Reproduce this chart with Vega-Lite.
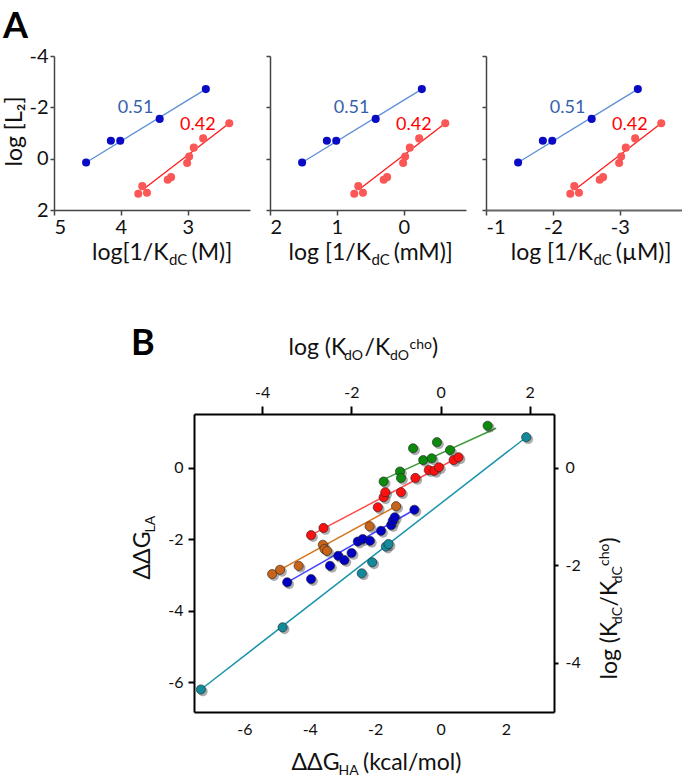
{
  "$schema": "https://vega.github.io/schema/vega-lite/v6.json",
  "padding": {"left": 3, "top": 9, "right": 0, "bottom": 0},
  "background": "white",
  "config": {
    "font": "Lato",
    "view": {"stroke": null},
    "axis": {"grid": false, "labelFont": "Lato", "titleFont": "Lato", "titleFontWeight": "normal", "labelColor": "#111", "titleColor": "#111", "domainColor": "#444", "tickColor": "#444"}
  },
  "datasets": {
    "a": [
      {"series": "blue", "logInvK": 4.52, "logL2": 0.15},
      {"series": "blue", "logInvK": 4.15, "logL2": -0.70},
      {"series": "blue", "logInvK": 4.01, "logL2": -0.70},
      {"series": "blue", "logInvK": 3.42, "logL2": -1.55},
      {"series": "blue", "logInvK": 2.73, "logL2": -2.71},
      {"series": "red", "logInvK": 3.74, "logL2": 1.37},
      {"series": "red", "logInvK": 3.68, "logL2": 1.07},
      {"series": "red", "logInvK": 3.61, "logL2": 1.33},
      {"series": "red", "logInvK": 3.30, "logL2": 0.82},
      {"series": "red", "logInvK": 3.25, "logL2": 0.72},
      {"series": "red", "logInvK": 3.01, "logL2": 0.17},
      {"series": "red", "logInvK": 2.98, "logL2": -0.08},
      {"series": "red", "logInvK": 2.91, "logL2": -0.43},
      {"series": "red", "logInvK": 2.77, "logL2": -0.79},
      {"series": "red", "logInvK": 2.38, "logL2": -1.38}
    ],
    "aLines": [
      {"series": "blue", "logInvK": 4.52, "logL2": 0.15},
      {"series": "blue", "logInvK": 2.73, "logL2": -2.71},
      {"series": "red", "logInvK": 3.66, "logL2": 1.18},
      {"series": "red", "logInvK": 2.38, "logL2": -1.38}
    ],
    "aLabels": [
      {"series": "blue", "logInvK": 3.78, "logL2": -1.99, "label": "0.51"},
      {"series": "red", "logInvK": 2.85, "logL2": -1.33, "label": "0.42"}
    ],
    "b": [
      {"series": "teal", "dGHA": -7.33, "dGLA": -6.20},
      {"series": "teal", "dGHA": -4.83, "dGLA": -4.46},
      {"series": "teal", "dGHA": -2.41, "dGLA": -2.95},
      {"series": "teal", "dGHA": -2.09, "dGLA": -2.64},
      {"series": "teal", "dGHA": -1.67, "dGLA": -2.20},
      {"series": "teal", "dGHA": -1.59, "dGLA": -2.13},
      {"series": "teal", "dGHA": 2.62, "dGLA": 0.86},
      {"series": "orange", "dGHA": -5.15, "dGLA": -2.97},
      {"series": "orange", "dGHA": -4.91, "dGLA": -2.85},
      {"series": "orange", "dGHA": -4.34, "dGLA": -2.74},
      {"series": "orange", "dGHA": -3.60, "dGLA": -2.15},
      {"series": "orange", "dGHA": -3.55, "dGLA": -2.27},
      {"series": "orange", "dGHA": -3.47, "dGLA": -2.32},
      {"series": "orange", "dGHA": -2.17, "dGLA": -1.63},
      {"series": "orange", "dGHA": -1.36, "dGLA": -1.07},
      {"series": "blue", "dGHA": -4.69, "dGLA": -3.20},
      {"series": "blue", "dGHA": -3.96, "dGLA": -3.11},
      {"series": "blue", "dGHA": -3.38, "dGLA": -2.74},
      {"series": "blue", "dGHA": -3.13, "dGLA": -2.46},
      {"series": "blue", "dGHA": -2.94, "dGLA": -2.58},
      {"series": "blue", "dGHA": -2.72, "dGLA": -2.38},
      {"series": "blue", "dGHA": -2.53, "dGLA": -2.06},
      {"series": "blue", "dGHA": -2.38, "dGLA": -1.99},
      {"series": "blue", "dGHA": -2.16, "dGLA": -2.04},
      {"series": "blue", "dGHA": -1.82, "dGLA": -1.76},
      {"series": "blue", "dGHA": -1.51, "dGLA": -1.60},
      {"series": "blue", "dGHA": -1.46, "dGLA": -1.48},
      {"series": "blue", "dGHA": -1.40, "dGLA": -1.38},
      {"series": "blue", "dGHA": -0.80, "dGLA": -1.17},
      {"series": "green", "dGHA": -1.74, "dGLA": -0.38},
      {"series": "green", "dGHA": -1.24, "dGLA": -0.10},
      {"series": "green", "dGHA": -1.21, "dGLA": -0.28},
      {"series": "green", "dGHA": -0.84, "dGLA": 0.55},
      {"series": "green", "dGHA": -0.53, "dGLA": 0.22},
      {"series": "green", "dGHA": -0.27, "dGLA": 0.27},
      {"series": "green", "dGHA": -0.11, "dGLA": 0.72},
      {"series": "green", "dGHA": 0.29, "dGLA": 0.50},
      {"series": "green", "dGHA": 1.44, "dGLA": 1.18},
      {"series": "red", "dGHA": -3.96, "dGLA": -1.88},
      {"series": "red", "dGHA": -3.58, "dGLA": -1.68},
      {"series": "red", "dGHA": -1.92, "dGLA": -1.10},
      {"series": "red", "dGHA": -1.74, "dGLA": -0.82},
      {"series": "red", "dGHA": -1.69, "dGLA": -0.68},
      {"series": "red", "dGHA": -1.21, "dGLA": -0.68},
      {"series": "red", "dGHA": -0.77, "dGLA": -0.28},
      {"series": "red", "dGHA": -0.36, "dGLA": -0.06},
      {"series": "red", "dGHA": -0.19, "dGLA": -0.08},
      {"series": "red", "dGHA": -0.05, "dGLA": 0.02},
      {"series": "red", "dGHA": 0.40, "dGLA": 0.22},
      {"series": "red", "dGHA": 0.55, "dGLA": 0.30}
    ],
    "bLines": [
      {"series": "teal", "dGHA": -7.33, "dGLA": -6.20},
      {"series": "teal", "dGHA": 2.62, "dGLA": 0.86},
      {"series": "orange", "dGHA": -5.15, "dGLA": -2.97},
      {"series": "orange", "dGHA": -1.36, "dGLA": -1.07},
      {"series": "blue", "dGHA": -4.69, "dGLA": -3.20},
      {"series": "blue", "dGHA": -0.80, "dGLA": -1.17},
      {"series": "green", "dGHA": -1.67, "dGLA": -0.29},
      {"series": "green", "dGHA": 1.70, "dGLA": 1.11},
      {"series": "red", "dGHA": -3.96, "dGLA": -1.88},
      {"series": "red", "dGHA": 0.55, "dGLA": 0.30}
    ]
  },
  "spacing": 59,
  "vconcat": [
    {
      "title": {"text": "A", "anchor": "start", "frame": "bounds", "fontSize": 36, "fontWeight": "bold", "font": "Lato", "color": "#000", "offset": 0},
      "spacing": 15,
      "hconcat": [
        {
          "width": 196, "height": 154,
          "layer": [
            {"data": {"name": "aLines"}, "mark": {"type": "line", "strokeWidth": 1.3},
             "encoding": {
               "x": {"field": "logInvK", "type": "quantitative", "scale": {"domain": [2.07, 5], "reverse": true, "nice": false, "zero": false},
                     "axis": {"orient": "bottom", "values": [5, 4, 3], "labelExpr": "'' + datum.value", "tickSize": 5, "tickWidth": 1.5, "domainWidth": 1.5, "labelFontSize": 20, "labelPadding": 2,
                              "title": "log[1/K", "titleFontSize": 23, "titleAlign": "right", "titleBaseline": "alphabetic", "titleX": 114, "titleY": 49}},
               "y": {"field": "logL2", "type": "quantitative", "scale": {"domain": [-4, 2], "reverse": true, "nice": false, "zero": false},
                     "axis": {"orient": "left", "values": [-4, -2, 0, 2], "labelExpr": "'' + datum.value", "tickSize": 4, "tickWidth": 1.5, "domainWidth": 1.5, "labelFontSize": 20, "labelPadding": 2,
                              "title": "log [L₂]", "titleFontSize": 23, "titleAngle": 270, "titleAlign": "center", "titleBaseline": "middle", "titleX": -40, "titleY": 75}},
               "color": {"field": "series", "type": "nominal", "scale": {"domain": ["blue", "red"], "range": ["#5b8fd9", "#ff1a1a"]}, "legend": null}
             }},
            {"data": {"name": "a"}, "mark": {"type": "circle", "size": 65, "opacity": 1},
             "encoding": {
               "x": {"field": "logInvK", "type": "quantitative", "scale": {"domain": [2.07, 5], "reverse": true, "nice": false, "zero": false},
                     "axis": {"orient": "bottom", "labels": false, "ticks": false, "domain": false, "title": "dC", "titleFontSize": 15, "titleAlign": "left", "titleBaseline": "alphabetic", "titleX": 114.5, "titleY": 54}},
               "y": {"field": "logL2", "type": "quantitative", "scale": {"domain": [-4, 2], "reverse": true, "nice": false, "zero": false}, "axis": null},
               "color": {"field": "series", "type": "nominal", "scale": {"domain": ["blue", "red"], "range": ["#0b0bc4", "#fb5757"]}, "legend": null}
             }},
            {"data": {"name": "aLabels"}, "mark": {"type": "text", "fontSize": 18, "font": "Lato"},
             "encoding": {
               "x": {"field": "logInvK", "type": "quantitative", "scale": {"domain": [2.07, 5], "reverse": true, "nice": false, "zero": false},
                     "axis": {"orient": "bottom", "labels": false, "ticks": false, "domain": false, "title": "(M)]", "titleFontSize": 23, "titleAlign": "left", "titleBaseline": "alphabetic", "titleX": 137, "titleY": 49}},
               "y": {"field": "logL2", "type": "quantitative", "scale": {"domain": [-4, 2], "reverse": true, "nice": false, "zero": false}, "axis": null},
               "text": {"field": "label"},
               "color": {"field": "series", "type": "nominal", "scale": {"domain": ["blue", "red"], "range": ["#3460ad", "#ff0000"]}, "legend": null}
             }}
          ],
          "resolve": {"scale": {"color": "independent"}, "axis": {"x": "independent", "y": "independent"}}
        },
        {
          "width": 196, "height": 154,
          "layer": [
            {"data": {"name": "aLines"}, "mark": {"type": "line", "strokeWidth": 1.3},
             "encoding": {
               "x": {"field": "logInvK", "type": "quantitative", "scale": {"domain": [2.07, 5], "reverse": true, "nice": false, "zero": false},
                     "axis": {"orient": "bottom", "values": [5, 4, 3], "labelExpr": "'' + (datum.value - 3)", "tickSize": 5, "tickWidth": 1.5, "domainWidth": 1.5, "labelFontSize": 20, "labelPadding": 2,
                              "title": "log [1/K", "titleFontSize": 23, "titleAlign": "right", "titleBaseline": "alphabetic", "titleX": 100.4, "titleY": 49}},
               "y": {"field": "logL2", "type": "quantitative", "scale": {"domain": [-4, 2], "reverse": true, "nice": false, "zero": false},
                     "axis": {"orient": "left", "values": [-4, -2, 0, 2], "labels": false, "tickSize": 4, "tickWidth": 1.5, "domainWidth": 1.5, "title": null}},
               "color": {"field": "series", "type": "nominal", "scale": {"domain": ["blue", "red"], "range": ["#5b8fd9", "#ff1a1a"]}, "legend": null}
             }},
            {"data": {"name": "a"}, "mark": {"type": "circle", "size": 65, "opacity": 1},
             "encoding": {
               "x": {"field": "logInvK", "type": "quantitative", "scale": {"domain": [2.07, 5], "reverse": true, "nice": false, "zero": false},
                     "axis": {"orient": "bottom", "labels": false, "ticks": false, "domain": false, "title": "dC", "titleFontSize": 15, "titleAlign": "left", "titleBaseline": "alphabetic", "titleX": 100.9, "titleY": 54}},
               "y": {"field": "logL2", "type": "quantitative", "scale": {"domain": [-4, 2], "reverse": true, "nice": false, "zero": false}, "axis": null},
               "color": {"field": "series", "type": "nominal", "scale": {"domain": ["blue", "red"], "range": ["#0b0bc4", "#fb5757"]}, "legend": null}
             }},
            {"data": {"name": "aLabels"}, "mark": {"type": "text", "fontSize": 18, "font": "Lato"},
             "encoding": {
               "x": {"field": "logInvK", "type": "quantitative", "scale": {"domain": [2.07, 5], "reverse": true, "nice": false, "zero": false},
                     "axis": {"orient": "bottom", "labels": false, "ticks": false, "domain": false, "title": "(mM)]", "titleFontSize": 23, "titleAlign": "left", "titleBaseline": "alphabetic", "titleX": 123.2, "titleY": 49}},
               "y": {"field": "logL2", "type": "quantitative", "scale": {"domain": [-4, 2], "reverse": true, "nice": false, "zero": false}, "axis": null},
               "text": {"field": "label"},
               "color": {"field": "series", "type": "nominal", "scale": {"domain": ["blue", "red"], "range": ["#3460ad", "#ff0000"]}, "legend": null}
             }}
          ],
          "resolve": {"scale": {"color": "independent"}, "axis": {"x": "independent", "y": "independent"}}
        },
        {
          "width": 196, "height": 154,
          "layer": [
            {"data": {"name": "aLines"}, "mark": {"type": "line", "strokeWidth": 1.3},
             "encoding": {
               "x": {"field": "logInvK", "type": "quantitative", "scale": {"domain": [2.07, 5], "reverse": true, "nice": false, "zero": false},
                     "axis": {"orient": "bottom", "values": [5, 4, 3], "labelExpr": "'' + (datum.value - 6)", "tickSize": 5, "tickWidth": 1.5, "domainWidth": 2, "domainColor": "#666", "labelFontSize": 20, "labelPadding": 2,
                              "title": "log [1/K", "titleFontSize": 23, "titleAlign": "right", "titleBaseline": "alphabetic", "titleX": 106.6, "titleY": 49}},
               "y": {"field": "logL2", "type": "quantitative", "scale": {"domain": [-4, 2], "reverse": true, "nice": false, "zero": false},
                     "axis": {"orient": "left", "values": [-4, -2, 0, 2], "labels": false, "tickSize": 4, "tickWidth": 1.5, "domainWidth": 1.5, "title": null}},
               "color": {"field": "series", "type": "nominal", "scale": {"domain": ["blue", "red"], "range": ["#5b8fd9", "#ff1a1a"]}, "legend": null}
             }},
            {"data": {"name": "a"}, "mark": {"type": "circle", "size": 65, "opacity": 1},
             "encoding": {
               "x": {"field": "logInvK", "type": "quantitative", "scale": {"domain": [2.07, 5], "reverse": true, "nice": false, "zero": false},
                     "axis": {"orient": "bottom", "labels": false, "ticks": false, "domain": false, "title": "dC", "titleFontSize": 15, "titleAlign": "left", "titleBaseline": "alphabetic", "titleX": 107, "titleY": 54}},
               "y": {"field": "logL2", "type": "quantitative", "scale": {"domain": [-4, 2], "reverse": true, "nice": false, "zero": false}, "axis": null},
               "color": {"field": "series", "type": "nominal", "scale": {"domain": ["blue", "red"], "range": ["#0b0bc4", "#fb5757"]}, "legend": null}
             }},
            {"data": {"name": "aLabels"}, "mark": {"type": "text", "fontSize": 18, "font": "Lato"},
             "encoding": {
               "x": {"field": "logInvK", "type": "quantitative", "scale": {"domain": [2.07, 5], "reverse": true, "nice": false, "zero": false},
                     "axis": {"orient": "bottom", "labels": false, "ticks": false, "domain": false, "title": "(µM)]", "titleFontSize": 23, "titleAlign": "left", "titleBaseline": "alphabetic", "titleX": 129.3, "titleY": 49}},
               "y": {"field": "logL2", "type": "quantitative", "scale": {"domain": [-4, 2], "reverse": true, "nice": false, "zero": false}, "axis": null},
               "text": {"field": "label"},
               "color": {"field": "series", "type": "nominal", "scale": {"domain": ["blue", "red"], "range": ["#3460ad", "#ff0000"]}, "legend": null}
             }}
          ],
          "resolve": {"scale": {"color": "independent"}, "axis": {"x": "independent", "y": "independent"}}
        }
      ]
    },
    {
      "spacing": 0,
      "hconcat": [
        {"width": 77, "height": 20, "data": {"values": [{"t": " "}]}, "mark": {"type": "text", "opacity": 0}, "encoding": {"text": {"field": "t"}}},
        {
          "width": 360, "height": 298,
          "title": {"text": "B", "anchor": "start", "frame": "bounds", "fontSize": 36, "fontWeight": "bold", "font": "Lato", "color": "#000", "offset": -27},
          "layer": [
            {"data": {"name": "bLines"}, "mark": {"type": "line", "strokeWidth": 1.5},
             "encoding": {
               "x": {"field": "dGHA", "type": "quantitative", "scale": {"domain": [-7.54, 3.47], "nice": false, "zero": false},
                     "axis": {"orient": "bottom", "values": [-6, -4, -2, 0, 2], "labelExpr": "'' + datum.value", "ticks": false, "labelPadding": 9, "labelFontSize": 16, "domainColor": "#000", "domainWidth": 2,
                              "title": "ΔΔG", "titleFontSize": 23, "titleAlign": "left", "titleBaseline": "alphabetic", "titleX": 97, "titleY": 57}},
               "y": {"field": "dGLA", "type": "quantitative", "scale": {"domain": [-6.83, 1.51], "nice": false, "zero": false},
                     "axis": {"orient": "left", "values": [-6, -4, -2, 0], "labelExpr": "'' + datum.value", "tickSize": 6, "tickWidth": 2, "tickColor": "#000", "labelPadding": 5, "labelFontSize": 16, "domainColor": "#000", "domainWidth": 2,
                              "title": "ΔΔG", "titleFontSize": 23, "titleAngle": 270, "titleAlign": "left", "titleBaseline": "alphabetic", "titleX": -45, "titleY": 165}},
               "color": {"field": "series", "type": "nominal", "scale": {"domain": ["teal", "orange", "blue", "green", "red"], "range": ["#1a93ab", "#d9731a", "#4545ff", "#3c9c3c", "#ff4d4d"]}, "legend": null}
             }},
            {"data": {"name": "b"}, "mark": {"type": "circle", "size": 95, "color": "#333", "opacity": 0.4, "xOffset": 2, "yOffset": 2},
             "encoding": {
               "x": {"field": "dGHA", "type": "quantitative", "scale": {"domain": [-7.54, 3.47], "nice": false, "zero": false},
                     "axis": {"orient": "bottom", "labels": false, "ticks": false, "domain": false, "title": "HA", "titleFontSize": 14, "titleAlign": "left", "titleBaseline": "alphabetic", "titleX": 144, "titleY": 62}},
               "y": {"field": "dGLA", "type": "quantitative", "scale": {"domain": [-6.83, 1.51], "nice": false, "zero": false},
                     "axis": {"orient": "left", "labels": false, "ticks": false, "domain": false, "title": "LA", "titleFontSize": 14, "titleAngle": 270, "titleAlign": "left", "titleBaseline": "alphabetic", "titleX": -40, "titleY": 118}}
             }},
            {"data": {"name": "b"}, "mark": {"type": "circle", "size": 85, "opacity": 1, "stroke": "#222", "strokeWidth": 0.6},
             "encoding": {
               "x": {"field": "dGHA", "type": "quantitative", "scale": {"domain": [-7.54, 3.47], "nice": false, "zero": false},
                     "axis": {"orient": "top", "values": [-5.456, -2.728, 0, 2.728], "labelExpr": "'' + round(datum.value / 1.364)", "tickSize": 8, "tickWidth": 2, "tickColor": "#000", "labelPadding": 6, "labelFontSize": 16, "domainColor": "#000", "domainWidth": 2,
                              "title": "log (K", "titleFontSize": 23, "titleAlign": "left", "titleBaseline": "alphabetic", "titleX": 94, "titleY": -60}},
               "y": {"field": "dGLA", "type": "quantitative", "scale": {"domain": [-6.83, 1.51], "nice": false, "zero": false},
                     "axis": {"orient": "right", "values": [-5.456, -2.728, 0], "labelExpr": "'' + round(datum.value / 1.364)", "tickSize": 4, "tickWidth": 2, "tickColor": "#000", "labelPadding": 7, "labelFontSize": 16, "domainColor": "#000", "domainWidth": 2,
                              "title": "log (K", "titleFontSize": 23, "titleAngle": 270, "titleAlign": "left", "titleBaseline": "alphabetic", "titleX": 62, "titleY": 265}},
               "color": {"field": "series", "type": "nominal", "scale": {"domain": ["teal", "orange", "blue", "green", "red"], "range": ["#138a9c", "#c8641a", "#0000c4", "#0c8a0c", "#ff1010"]}, "legend": null}
             }},
            {"data": {"name": "bLines"}, "mark": {"type": "line", "opacity": 0},
             "encoding": {
               "x": {"field": "dGHA", "type": "quantitative", "scale": {"domain": [-7.54, 3.47], "nice": false, "zero": false},
                     "axis": {"orient": "bottom", "labels": false, "ticks": false, "domain": false, "title": "(kcal/mol)", "titleFontSize": 23, "titleAlign": "left", "titleBaseline": "alphabetic", "titleX": 168.5, "titleY": 57}},
               "y": {"field": "dGLA", "type": "quantitative", "scale": {"domain": [-6.83, 1.51], "nice": false, "zero": false},
                     "axis": {"orient": "right", "labels": false, "ticks": false, "domain": false, "title": "dC", "titleFontSize": 14, "titleAngle": 270, "titleAlign": "left", "titleBaseline": "alphabetic", "titleX": 67, "titleY": 209.5}}
             }},
            {"data": {"name": "bLines"}, "mark": {"type": "line", "opacity": 0},
             "encoding": {
               "x": {"field": "dGHA", "type": "quantitative", "scale": {"domain": [-7.54, 3.47], "nice": false, "zero": false},
                     "axis": {"orient": "top", "labels": false, "ticks": false, "domain": false, "title": "dO", "titleFontSize": 14, "titleAlign": "left", "titleBaseline": "alphabetic", "titleX": 149.5, "titleY": -55}},
               "y": {"field": "dGLA", "type": "quantitative", "scale": {"domain": [-6.83, 1.51], "nice": false, "zero": false},
                     "axis": {"orient": "right", "labels": false, "ticks": false, "domain": false, "title": "/K", "titleFontSize": 23, "titleAngle": 270, "titleAlign": "left", "titleBaseline": "alphabetic", "titleX": 62, "titleY": 192}}
             }},
            {"data": {"name": "bLines"}, "mark": {"type": "line", "opacity": 0},
             "encoding": {
               "x": {"field": "dGHA", "type": "quantitative", "scale": {"domain": [-7.54, 3.47], "nice": false, "zero": false},
                     "axis": {"orient": "top", "labels": false, "ticks": false, "domain": false, "title": "/K", "titleFontSize": 23, "titleAlign": "left", "titleBaseline": "alphabetic", "titleX": 170, "titleY": -60}},
               "y": {"field": "dGLA", "type": "quantitative", "scale": {"domain": [-6.83, 1.51], "nice": false, "zero": false},
                     "axis": {"orient": "right", "labels": false, "ticks": false, "domain": false, "title": "dC", "titleFontSize": 14, "titleAngle": 270, "titleAlign": "left", "titleBaseline": "alphabetic", "titleX": 67, "titleY": 168.7}}
             }},
            {"data": {"name": "bLines"}, "mark": {"type": "line", "opacity": 0},
             "encoding": {
               "x": {"field": "dGHA", "type": "quantitative", "scale": {"domain": [-7.54, 3.47], "nice": false, "zero": false},
                     "axis": {"orient": "top", "labels": false, "ticks": false, "domain": false, "title": "dO", "titleFontSize": 14, "titleAlign": "left", "titleBaseline": "alphabetic", "titleX": 195.5, "titleY": -55}},
               "y": {"field": "dGLA", "type": "quantitative", "scale": {"domain": [-6.83, 1.51], "nice": false, "zero": false},
                     "axis": {"orient": "right", "labels": false, "ticks": false, "domain": false, "title": "cho", "titleFontSize": 14, "titleAngle": 270, "titleAlign": "left", "titleBaseline": "alphabetic", "titleX": 54, "titleY": 151.5}}
             }},
            {"data": {"name": "bLines"}, "mark": {"type": "line", "opacity": 0},
             "encoding": {
               "x": {"field": "dGHA", "type": "quantitative", "scale": {"domain": [-7.54, 3.47], "nice": false, "zero": false},
                     "axis": {"orient": "top", "labels": false, "ticks": false, "domain": false, "title": "cho", "titleFontSize": 14, "titleAlign": "left", "titleBaseline": "alphabetic", "titleX": 215, "titleY": -66}},
               "y": {"field": "dGLA", "type": "quantitative", "scale": {"domain": [-6.83, 1.51], "nice": false, "zero": false},
                     "axis": {"orient": "right", "labels": false, "ticks": false, "domain": false, "title": ")", "titleFontSize": 23, "titleAngle": 270, "titleAlign": "left", "titleBaseline": "alphabetic", "titleX": 62, "titleY": 129}}
             }},
            {"data": {"name": "bLines"}, "mark": {"type": "line", "opacity": 0},
             "encoding": {
               "x": {"field": "dGHA", "type": "quantitative", "scale": {"domain": [-7.54, 3.47], "nice": false, "zero": false},
                     "axis": {"orient": "top", "labels": false, "ticks": false, "domain": false, "title": ")", "titleFontSize": 23, "titleAlign": "left", "titleBaseline": "alphabetic", "titleX": 237.5, "titleY": -60}},
               "y": {"field": "dGLA", "type": "quantitative", "scale": {"domain": [-6.83, 1.51], "nice": false, "zero": false}, "axis": null}
             }}
          ],
          "resolve": {"axis": {"x": "independent", "y": "independent"}, "scale": {"color": "independent"}}
        }
      ]
    }
  ]
}
